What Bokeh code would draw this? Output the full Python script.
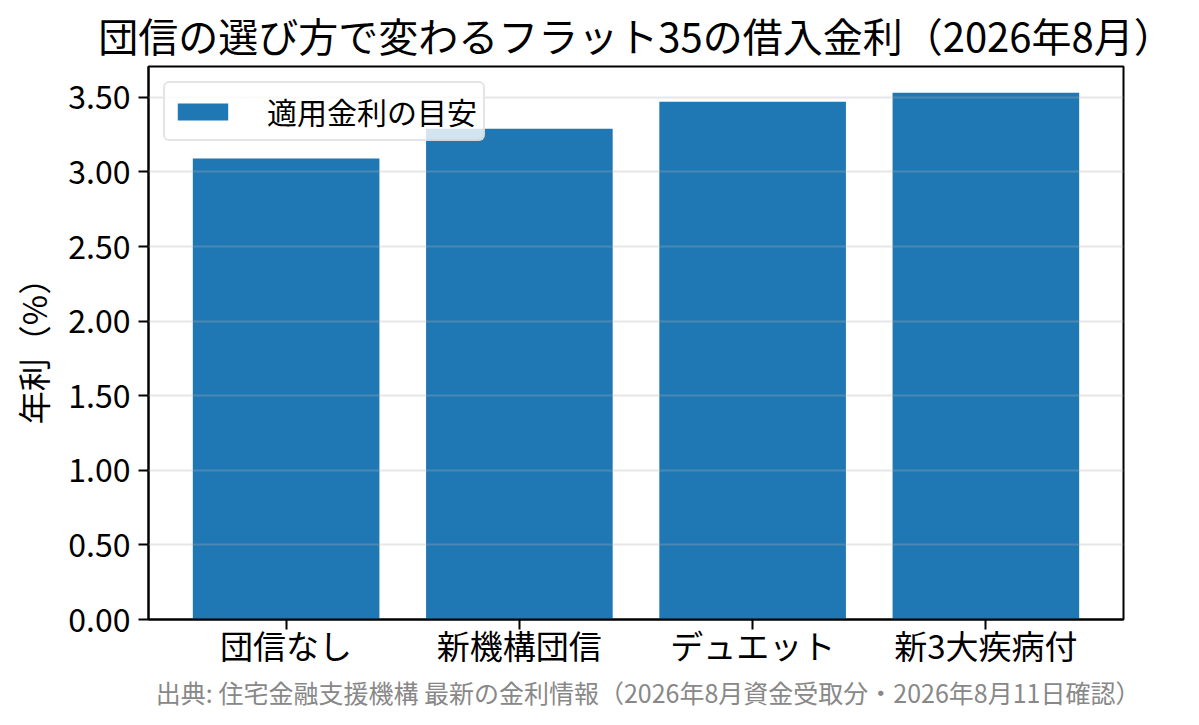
from bokeh.plotting import figure
from bokeh.models import (FactorRange, Range1d, FixedTicker, NumeralTickFormatter,
                          Legend, LegendItem, Title, ColumnDataSource)
from bokeh.embed import file_html
from bokeh.resources import INLINE

categories = ["団信なし", "新機構団信", "デュエット", "新3大疾病付"]
rates = [3.09, 3.29, 3.47, 3.53]
y_ticks = [0.0, 0.5, 1.0, 1.5, 2.0, 2.5, 3.0, 3.5]
title_text = "団信の選び方で変わるフラット35の借入金利（2026年8月）"
source_text = "出典: 住宅金融支援機構 最新の金利情報（2026年8月資金受取分・2026年8月11日確認）"
series_label = "適用金利の目安"
y_label = "年利（%）"

FONT = "Noto Sans CJK JP"
BAR = "#1f77b4"

src = ColumnDataSource(dict(cat=categories, rate=rates))

p = figure(width=1183, height=709,
           x_range=FactorRange(factors=categories, range_padding=0.045),
           y_range=Range1d(0, max(rates) * 1.05),
           output_backend="svg", toolbar_location=None,
           min_border_left=148, min_border_right=60,
           min_border_top=58, min_border_bottom=0)

r = p.vbar(x="cat", top="rate", width=0.8, source=src,
           fill_color=BAR, line_color=None)

# title
p.title.text = title_text
p.title.text_font = FONT
p.title.text_font_size = "40px"
p.title.text_font_style = "normal"
p.title.text_color = "black"
p.title.align = "center"
p.title.standoff = 6

# source note
p.add_layout(Title(text=source_text, text_font=FONT, text_font_size="25px",
                   text_font_style="normal", text_color="#888888",
                   align="right", offset=-17, standoff=0,
                   vertical_align="bottom"), "below")

# axes
for ax in (p.xaxis[0], p.yaxis[0]):
    ax.axis_line_color = "black"
    ax.axis_line_width = 2
    ax.major_tick_line_color = "black"
    ax.major_tick_line_width = 2
    ax.major_tick_out = 10
    ax.major_tick_in = 0
    ax.minor_tick_line_color = None
    ax.major_label_text_font = FONT
    ax.major_label_text_color = "black"

p.yaxis.ticker = FixedTicker(ticks=y_ticks)
p.yaxis.formatter = NumeralTickFormatter(format="0.00")
p.yaxis.major_label_text_font_size = "32px"
p.yaxis.major_label_standoff = 8
p.yaxis.axis_label = y_label
p.yaxis.axis_label_text_font = FONT
p.yaxis.axis_label_text_font_size = "33px"
p.yaxis.axis_label_text_font_style = "normal"
p.yaxis.axis_label_text_color = "black"
p.yaxis.axis_label_standoff = 8

p.xaxis.major_label_text_font_size = "33px"
p.xaxis.major_label_standoff = -9

# grid
p.xgrid.visible = False
p.ygrid.grid_line_color = "#b0b0b0"
p.ygrid.grid_line_alpha = 0.3
p.ygrid.grid_line_width = 2
p.ygrid.level = "guide"

p.outline_line_color = "black"
p.outline_line_width = 2
p.outline_line_alpha = 1.0
p.background_fill_color = "white"
p.border_fill_color = "white"

legend = Legend(items=[LegendItem(label=series_label, renderers=[r])],
                location="top_left", margin=15, padding=6,
                glyph_width=63, glyph_height=21, label_standoff=33,
                label_text_font=FONT, label_text_font_size="30px",
                label_text_color="black",
                border_line_color="#cccccc", border_line_width=2,
                background_fill_color="white", background_fill_alpha=0.8)
if "border_radius" in Legend.properties():
    legend.border_radius = 6
p.add_layout(legend)

open("out.html", "w").write(file_html(p, INLINE))
